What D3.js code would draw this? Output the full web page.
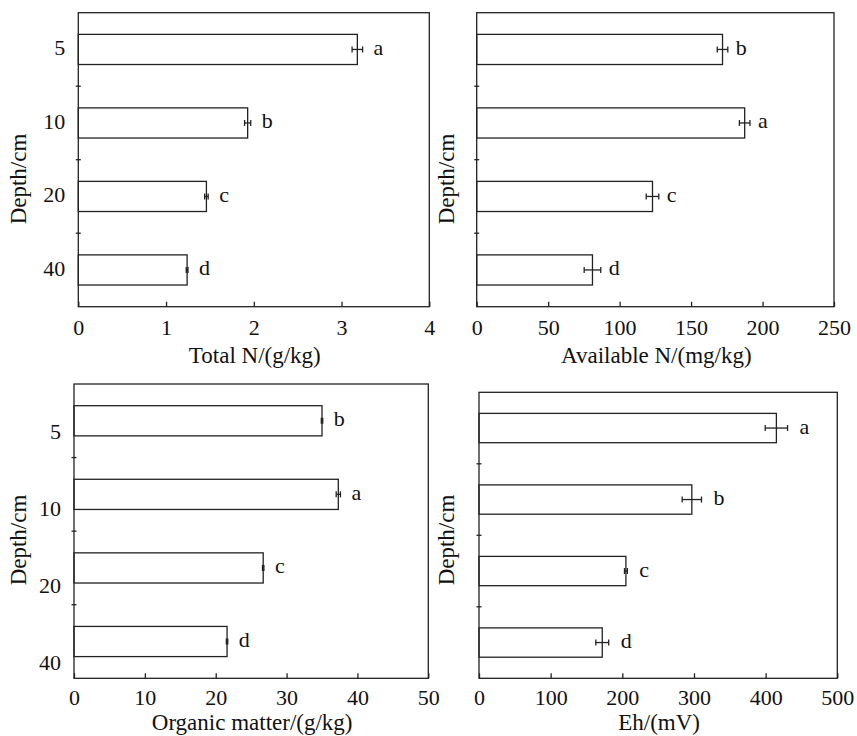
<!DOCTYPE html>
<html>
<head>
<meta charset="utf-8">
<script src="https://cdnjs.cloudflare.com/ajax/libs/d3/7.8.5/d3.min.js"></script>
<style>
    body { margin: 0; background: #fff; }
    text { font-family: 'Liberation Serif', 'Times New Roman', serif; fill: #111; }
</style>
</head>
<body>
<div class="canvas"></div>
<script>
// DATA
const depths = ['5', '10', '20', '40'];

const totalN = [3.18, 1.93, 1.46, 1.24];
const totalNErr = [0.06, 0.035, 0.02, 0.01];
const totalNSig = ['a', 'b', 'c', 'd'];
const totalNTicks = [0, 1, 2, 3, 4];

const availN = [172, 187.5, 123, 81];
const availNErr = [3.7, 3.7, 4.4, 5.8];
const availNSig = ['b', 'a', 'c', 'd'];
const availNTicks = [0, 50, 100, 150, 200, 250];

const organic = [35.0, 37.3, 26.7, 21.6];
const organicErr = [0.1, 0.3, 0.1, 0.1];
const organicSig = ['b', 'a', 'c', 'd'];
const organicTicks = [0, 10, 20, 30, 40, 50];

const eh = [415, 297, 205, 172];
const ehErr = [15.6, 13.5, 2, 9];
const ehSig = ['a', 'b', 'c', 'd'];
const ehTicks = [0, 100, 200, 300, 400, 500];

// SETUP CANVAS
const svg = d3.select('.canvas')
    .append('svg')
    .attr('width', 857)
    .attr('height', 736);

const ink = '#222';

// one entry per panel: data + where it sits on the page
const panels = [
    { values: totalN, err: totalNErr, sig: totalNSig, ticks: totalNTicks, title: 'Total N/(g/kg)',
      left: 78.3, right: 429.3, top: 12.7, bottom: 306.7, labels: [0, 0],
      tickY: 28.3, titleY: 56, yTitleX: 26, yTitleY: 179, gap: 11 },
    { values: availN, err: availNErr, sig: availNSig, ticks: availNTicks, title: 'Available N/(mg/kg)',
      left: 476.7, right: 834, top: 12.7, bottom: 306.7, labels: null,
      tickY: 28.3, titleY: 56, yTitleX: 454, yTitleY: 179, gap: 8 },
    { values: organic, err: organicErr, sig: organicSig, ticks: organicTicks, title: 'Organic matter/(g/kg)',
      left: 74, right: 428.3, top: 384, bottom: 678.3, labels: [12, 23],
      tickY: 26.7, titleY: 51.5, yTitleX: 26, yTitleY: 540, gap: 11 },
    { values: eh, err: ehErr, sig: ehSig, ticks: ehTicks, title: 'Eh/(mV)',
      left: 479, right: 837.3, top: 392.3, bottom: 678.3, labels: null,
      tickY: 26.7, titleY: 51.5, yTitleX: 454, yTitleY: 540, gap: 12 }
];

const drawPanel = (p) => {

    const w = p.right - p.left;
    const h = p.bottom - p.top;

    const g = svg.append('g')
        .attr('transform', `translate(${p.left},${p.top})`);

    // scales
    const x = d3.scaleLinear()
        .domain(d3.extent(p.ticks))
        .range([0, w]);

    const y = d3.scaleBand()
        .domain(depths)
        .range([0, h])
        .paddingInner(0.59)
        .paddingOuter(0.295);

    const rows = depths.map((d, i) => ({ depth: d, v: p.values[i], e: p.err[i], s: p.sig[i] }));

    // bars
    g.selectAll('rect.bar')
        .data(rows)
        .enter()
        .append('rect')
        .attr('class', 'bar')
        .attr('x', 0)
        .attr('y', d => y(d.depth))
        .attr('width', d => x(d.v))
        .attr('height', y.bandwidth())
        .attr('fill', '#fff')
        .attr('stroke', ink)
        .attr('stroke-width', 1.3);

    // error bars
    const mid = d => y(d.depth) + y.bandwidth() / 2;
    const eb = g.selectAll('g.err')
        .data(rows)
        .enter()
        .append('g')
        .attr('class', 'err')
        .attr('stroke', ink)
        .attr('stroke-width', 1.3);

    eb.append('line')
        .attr('x1', d => x(d.v - d.e))
        .attr('x2', d => x(d.v + d.e))
        .attr('y1', mid)
        .attr('y2', mid);

    [-1, 1].forEach(side => {
        eb.append('line')
            .attr('x1', d => x(d.v + side * d.e))
            .attr('x2', d => x(d.v + side * d.e))
            .attr('y1', d => mid(d) - 3)
            .attr('y2', d => mid(d) + 3);
    });

    // significance letters
    g.selectAll('text.sig')
        .data(rows)
        .enter()
        .append('text')
        .attr('class', 'sig')
        .attr('x', d => x(d.v + d.e) + p.gap)
        .attr('y', mid)
        .attr('dy', '0.25em')
        .style('font-size', '22px')
        .text(d => d.s);

    // frame
    g.append('rect')
        .attr('width', w)
        .attr('height', h)
        .attr('fill', 'none')
        .attr('stroke', ink)
        .attr('stroke-width', 1.3);

    // small ticks between depth bands
    g.selectAll('line.ytick')
        .data(depths.slice(1))
        .enter()
        .append('line')
        .attr('class', 'ytick')
        .attr('x1', -2.5)
        .attr('x2', 2.5)
        .attr('y1', d => y(d) - y.paddingOuter() * y.step())
        .attr('y2', d => y(d) - y.paddingOuter() * y.step())
        .attr('stroke', ink)
        .attr('stroke-width', 1.3);

    // x axis, ticks pointing inward
    const xAxis = d3.axisBottom(x)
        .tickValues(p.ticks)
        .tickFormat(d3.format('d'))
        .tickSizeInner(-5)
        .tickSizeOuter(0);

    const xAxisGroup = g.append('g')
        .attr('transform', `translate(0,${h})`)
        .call(xAxis);

    xAxisGroup.select('.domain').remove();
    xAxisGroup.selectAll('line').attr('stroke', ink).attr('stroke-width', 1.3);
    xAxisGroup.selectAll('text')
        .attr('y', p.tickY)
        .attr('dy', 0)
        .attr('fill', '#111')
        .style('font-size', '22px')
        .style('font-family', "'Liberation Serif', 'Times New Roman', serif");

    // depth labels (only left column)
    if (p.labels) {
        const labelY = d3.scalePoint()
            .domain(depths)
            .range([y(depths[0]) + y.bandwidth() / 2 + p.labels[0] - 1.5,
                    y(depths[3]) + y.bandwidth() / 2 + p.labels[1] - 1.5]);

        g.selectAll('text.depth')
            .data(depths)
            .enter()
            .append('text')
            .attr('class', 'depth')
            .attr('x', -13)
            .attr('y', d => labelY(d))
            .attr('dy', '0.33em')
            .attr('text-anchor', 'end')
            .style('font-size', '22px')
            .text(d => d);
    }

    // axis titles
    svg.append('text')
        .attr('x', p.left + w / 2 + 1)
        .attr('y', p.bottom + p.titleY)
        .attr('text-anchor', 'middle')
        .style('font-size', '23px')
        .text(p.title);

    svg.append('text')
        .attr('transform', `translate(${p.yTitleX},${p.yTitleY}) rotate(-90)`)
        .attr('text-anchor', 'middle')
        .style('font-size', '23px')
        .text('Depth/cm');
};

panels.forEach(drawPanel);
</script>
</body>
</html>
